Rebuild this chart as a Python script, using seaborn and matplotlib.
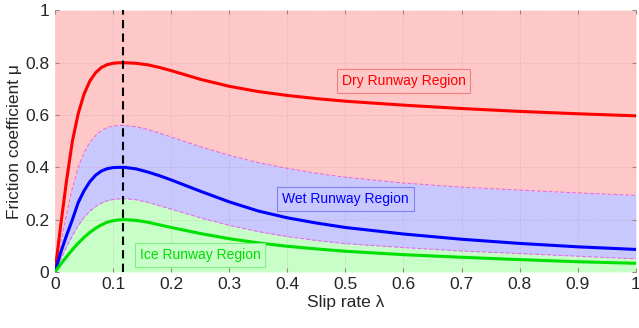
import numpy as np
import pandas as pd
import seaborn as sns
import matplotlib.pyplot as plt

# slip rate values
slip = [0, 0.01, 0.02, 0.03, 0.04, 0.05, 0.06, 0.07, 0.08, 0.09, 0.10, 0.11, 0.12,
        0.14, 0.16, 0.18, 0.20,
        0.25, 0.30, 0.35, 0.40, 0.45, 0.50,
        0.60, 0.70, 0.80, 0.90, 1.00]

dry = [0, 0.18, 0.35, 0.50, 0.605, 0.68, 0.73, 0.762, 0.782, 0.793, 0.798, 0.800, 0.800,
       0.798, 0.792, 0.782, 0.770,
       0.737, 0.710, 0.690, 0.675, 0.663, 0.653,
       0.638, 0.625, 0.614, 0.605, 0.597]
wet = [0, 0.075, 0.14, 0.20, 0.265, 0.31, 0.345, 0.37, 0.386, 0.395, 0.399, 0.400, 0.400,
       0.394, 0.382, 0.368, 0.352,
       0.309, 0.268, 0.233, 0.207, 0.187, 0.170,
       0.145, 0.125, 0.109, 0.096, 0.086]
ice = [0, 0.03, 0.058, 0.085, 0.11, 0.132, 0.151, 0.167, 0.18, 0.19, 0.196, 0.199, 0.200,
       0.197, 0.190, 0.180, 0.170,
       0.147, 0.127, 0.111, 0.098, 0.088, 0.079,
       0.066, 0.056, 0.047, 0.039, 0.033]
# dashed boundaries of the wet region
upper = [0, 0.11, 0.22, 0.32, 0.40, 0.455, 0.495, 0.522, 0.541, 0.552, 0.558, 0.560, 0.560,
         0.555, 0.545, 0.531, 0.516,
         0.479, 0.446, 0.418, 0.396, 0.377, 0.362,
         0.340, 0.324, 0.313, 0.302, 0.293]
lower = [0, 0.048, 0.095, 0.138, 0.177, 0.208, 0.232, 0.25, 0.263, 0.272, 0.277, 0.279, 0.280,
         0.276, 0.266, 0.253, 0.240,
         0.207, 0.178, 0.154, 0.135, 0.120, 0.108,
         0.093, 0.080, 0.070, 0.060, 0.050]

peak_slip = 0.117

df = pd.DataFrame({'slip': slip, 'Dry': dry, 'Wet': wet, 'Ice': ice})
long_df = df.melt(id_vars='slip', var_name='runway', value_name='mu')

sns.set_theme(style='white')
plt.rcParams['font.family'] = ['Liberation Sans', 'DejaVu Sans']

fig = plt.figure(figsize=(6.39, 3.28), dpi=100)
ax = fig.add_axes([0.086, 0.171, 0.909, 0.797])

# region fills
ax.fill_between(slip, upper, 1, color='#ffc8c8', lw=0, zorder=0)
ax.fill_between(slip, lower, upper, color='#c8c8ff', lw=0, zorder=0)
ax.fill_between(slip, 0, lower, color='#c8ffc8', lw=0, zorder=0)
ax.plot(slip, upper, color='#e070e0', lw=0.8, ls='--', zorder=1)
ax.plot(slip, lower, color='#e070e0', lw=0.8, ls='--', zorder=1)

ax.grid(True, color='#c09090', ls='--', lw=0.5, alpha=0.35, zorder=0.5)
ax.set_axisbelow(False)

sns.lineplot(data=long_df, x='slip', y='mu', hue='runway',
             palette={'Dry': '#ff0000', 'Wet': '#0000ff', 'Ice': '#00e000'},
             lw=2.2, legend=False, ax=ax, zorder=3,
             solid_joinstyle='round', solid_capstyle='round')

ax.axvline(peak_slip, color='black', ls=(0, (4, 2.5)), lw=1.5, zorder=4)

ax.text(0.60, 0.73, 'Dry Runway Region', color='#ff0000', fontsize=10,
        ha='center', va='center', zorder=5,
        bbox=dict(boxstyle='square,pad=0.35', fc='#ffc8c8', ec='#f08080', lw=0.8))
ax.text(0.50, 0.28, 'Wet Runway Region', color='#0000ff', fontsize=10,
        ha='center', va='center', zorder=5,
        bbox=dict(boxstyle='square,pad=0.35', fc='#c8c8ff', ec='#8080f0', lw=0.8))
ax.text(0.25, 0.065, 'Ice Runway Region', color='#00dd00', fontsize=10,
        ha='center', va='center', zorder=5,
        bbox=dict(boxstyle='square,pad=0.35', fc='#c8ffc8', ec='#80f080', lw=0.8))

ax.set_xlim(0, 1)
ax.set_ylim(0, 1)
ax.set_xticks(np.round(np.arange(0, 1.01, 0.1), 1))
ax.set_xticklabels(['0', '0.1', '0.2', '0.3', '0.4', '0.5', '0.6', '0.7', '0.8', '0.9', '1'])
ax.set_yticks([0, 0.2, 0.4, 0.6, 0.8, 1])
ax.set_yticklabels(['0', '0.2', '0.4', '0.6', '0.8', '1'])
ax.tick_params(axis='both', labelsize=12.5, labelcolor='#262626', color='#a08080',
               direction='in', length=3, width=0.8,
               top=True, right=True, bottom=True, left=True, pad=4)
for s in ax.spines.values():
    s.set_visible(False)

ax.set_xlabel('Slip rate λ', fontsize=12.5, color='#262626', labelpad=2)
ax.set_ylabel('Friction coefficient μ', fontsize=12.5, color='#262626', labelpad=2)

fig.savefig('out.png', dpi=100)
